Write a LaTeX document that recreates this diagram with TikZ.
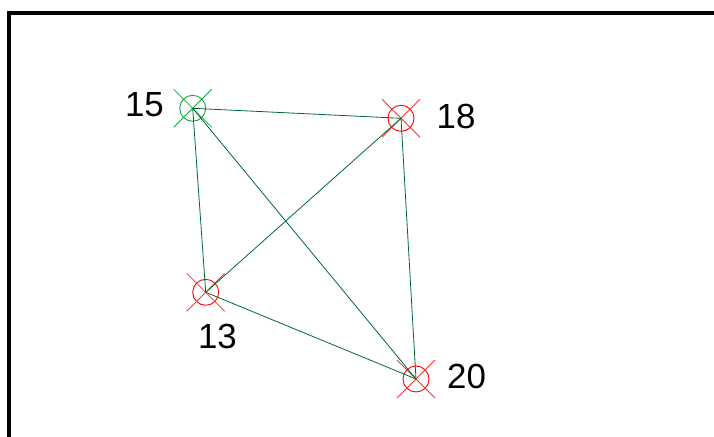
\documentclass[tikz,border=0pt]{standalone}
\usepackage{fontspec}
\setmainfont{Liberation Sans}
\definecolor{edgegreen}{RGB}{0,105,50}
\definecolor{markgreen}{RGB}{20,165,60}
\definecolor{markred}{RGB}{255,0,0}
\definecolor{crossred}{RGB}{255,50,50}
\begin{document}
\begin{tikzpicture}[x=1bp,y=-1bp,
  marker/.style={circle,minimum size=26bp,inner sep=0pt,draw=#1,line width=0.9bp},
  edge/.style={draw=edgegreen,line width=0.8bp},
  lbl/.style={font=\fontsize{35}{38}\selectfont,inner sep=0pt,text=black}]
\useasboundingbox (0,0) rectangle (714,437);
\draw[line width=4.2bp] (9,437) -- (9,13) -- (714,13);
\node[marker=markgreen] (n15) at (192.7,108.3) {};
\node[marker=markred] (n18) at (401,118.3) {};
\node[marker=markred] (n13) at (205.7,292.3) {};
\node[marker=markred] (n20) at (416,379) {};
\foreach \n/\c in {n15/markgreen,n18/crossred,n13/crossred,n20/crossred}{
  \draw[\c,line width=0.8bp] (\n.center) ++(-19,-19) -- ++(38,38);
  \draw[\c,line width=0.8bp] (\n.center) ++(19,-19) -- ++(-38,38);
}
\draw[edge] (n15.center) -- (n18.center);
\draw[edge] (n15.center) -- (n13.center);
\draw[edge] (n15.center) -- (n20.center);
\draw[edge] (n18.center) -- (n13.center);
\draw[edge] (n18.center) -- (n20.center);
\draw[edge] (n13.center) -- (n20.center);
\node[lbl] (l15) at (144.5,105) {15};
\node[lbl] (l18) at (456,116) {18};
\node[lbl] (l13) at (217.5,336) {13};
\node[lbl] (l20) at (466.5,376) {20};
\end{tikzpicture}
\end{document}
